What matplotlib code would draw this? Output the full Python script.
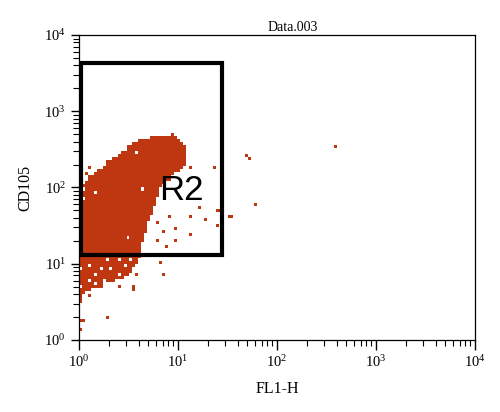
import numpy as np
import matplotlib
matplotlib.use("Agg")
import matplotlib.pyplot as plt
from matplotlib.colors import ListedColormap
from matplotlib.patches import Rectangle

plt.rcParams['font.family'] = ['Liberation Serif', 'DejaVu Serif']

# ---- data (log10 units) ----
# dense cluster: per row (lower log10 edge of CD105, 0.05 tall) the FL1-H log10 extent
row_lo = [0.50, 0.55, 0.60, 0.65, 0.70, 0.75, 0.80, 0.85, 0.90, 0.95,
          1.00, 1.05, 1.10, 1.15, 1.20, 1.25, 1.30, 1.35, 1.40, 1.45,
          1.50, 1.55, 1.60, 1.65, 1.70, 1.75, 1.80, 1.85, 1.90, 1.95,
          2.00, 2.05, 2.10, 2.15, 2.20, 2.25, 2.30, 2.35, 2.40, 2.45,
          2.50, 2.55, 2.60, 2.65]
row_xmin = [0.00, 0.00, 0.00, 0.00, 0.00, 0.00, 0.00, 0.00, 0.00, 0.00,
            0.00, 0.00, 0.00, 0.00, 0.00, 0.00, 0.00, 0.00, 0.00, 0.00,
            0.00, 0.00, 0.00, 0.00, 0.00, 0.00, 0.00, 0.00, 0.00, 0.00,
            0.00, 0.06, 0.10, 0.14, 0.18, 0.23, 0.28, 0.33, 0.38, 0.43,
            0.48, 0.54, 0.61, 0.72]
row_xmax = [0.03, 0.03, 0.05, 0.12, 0.25, 0.35, 0.45, 0.52, 0.55, 0.57,
            0.59, 0.60, 0.62, 0.62, 0.63, 0.64, 0.65, 0.66, 0.68, 0.69,
            0.70, 0.72, 0.73, 0.74, 0.75, 0.77, 0.78, 0.79, 0.80, 0.82,
            0.84, 0.87, 0.92, 0.97, 1.02, 1.06, 1.08, 1.08, 1.08, 1.08,
            1.07, 1.05, 1.02, 0.99]

# white holes inside the cluster (log10 x, log10 y)
hole_x = [0.59, 0.64, 0.49, 0.06, 0.16, 0.06, 0.02, 0.12, 0.17, 0.22, 0.32,
          0.40, 0.47, 0.10, 0.17, 0.27, 0.37, 0.02, 0.30, 0.53, 0.42, 0.44]
hole_y = [2.47, 2.00, 1.34, 2.00, 1.93, 1.87, 0.93, 0.99, 0.87, 0.92, 0.93,
          1.07, 0.99, 0.79, 0.74, 0.80, 0.79, 0.72, 1.07, 1.07, 0.86, 0.70]

# scattered events (log10 x, log10 y)
out_x = [0.10, 0.30, 0.04, 0.00, 0.42, 0.55, 0.55, 0.84, 0.87, 0.58, 1.70, 1.73,
         2.61, 1.78, 1.54, 1.40, 1.35, 1.28, 1.40, 0.80, 0.91, 0.98, 1.11, 1.13,
         0.88, 0.98, 0.78, 0.85, 1.12, 1.14, 1.42, 1.51, 1.22, 0.94, 1.02, 0.02,
         0.12, 0.09, 0.03]
out_y = [0.57, 0.30, 0.26, 0.14, 0.68, 0.72, 0.66, 1.03, 0.86, 0.86, 2.43, 2.38,
         2.55, 1.79, 1.62, 1.72, 2.26, 1.57, 1.51, 1.54, 1.61, 1.45, 1.61, 1.38,
         1.22, 1.29, 1.32, 1.42, 2.28, 1.62, 1.71, 1.62, 1.74, 2.70, 2.61, 0.26,
         2.27, 2.20, 2.08]

gate_x = [1.05, 27.7]
gate_y = [13.0, 4300.0]

color = '#BE3710'

# ---- figure ----
fig = plt.figure(figsize=(5.0, 4.12), dpi=100)
ax = fig.add_axes([0.158, 0.175, 0.792, 0.740])
ax.set_xscale('log')
ax.set_yscale('log')
ax.set_xlim(1, 1e4)
ax.set_ylim(1, 1e4)

# cell grid in log space
dx, dy = 0.03, 0.04
xe = np.arange(0, 4 + dx / 2, dx)
ye = np.arange(0, 4 + dy / 2, dy)
xc = (xe[:-1] + xe[1:]) / 2
yc = (ye[:-1] + ye[1:]) / 2
grid = np.zeros((len(yc), len(xc)))
for lo, a, b in zip(row_lo, row_xmin, row_xmax):
    rows = (yc >= lo) & (yc < lo + 0.05)
    cols = (xc >= a) & (xc <= b)
    grid[np.ix_(rows, cols)] = 1
for hx, hy in zip(hole_x, hole_y):
    i = np.argmin(np.abs(yc - hy))
    j = np.argmin(np.abs(xc - hx))
    grid[i, j] = 0
for ox, oy in zip(out_x, out_y):
    i = np.argmin(np.abs(yc - oy))
    j = np.argmin(np.abs(xc - ox))
    grid[i, j] = 1
masked = np.ma.masked_where(grid == 0, grid)
ax.pcolormesh(10 ** xe, 10 ** ye, masked, cmap=ListedColormap([color]),
              shading='flat', rasterized=True)

# gate
ax.add_patch(Rectangle((gate_x[0], gate_y[0]), gate_x[1] - gate_x[0],
                       gate_y[1] - gate_y[0], fill=False, lw=3, ec='black', zorder=5))
ax.text(10.8, 90, 'R2', fontsize=25, family='Liberation Sans', ha='center',
        va='center', color='black', zorder=6)

ax.set_title('Data.003', fontsize=10, x=0.54, pad=3)
ax.set_xlabel('FL1-H', fontsize=11.5, labelpad=8)
ax.set_ylabel('CD105', fontsize=11.5, labelpad=8)

ax.tick_params(which='major', direction='out', length=7, width=1, labelsize=10.5)
ax.tick_params(which='minor', direction='out', length=4, width=0.8)
ax.tick_params(axis='y', which='major', length=6)
for s in ax.spines.values():
    s.set_linewidth(0.9)

fig.savefig('out.png', dpi=100)
